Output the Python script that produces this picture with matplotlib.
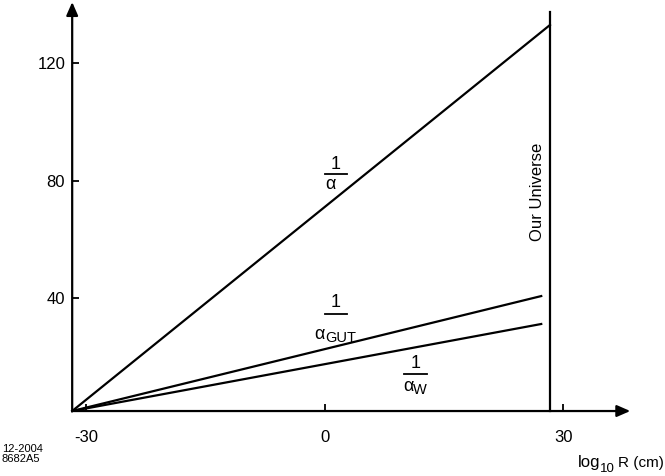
import matplotlib
matplotlib.use('Agg')
import matplotlib.pyplot as plt

plt.rcParams['font.family'] = ['Liberation Sans', 'DejaVu Sans']

# data (log10 R in cm vs inverse coupling)
x0, y0 = -31.8, 1.7          # where the axes meet
x_alpha = [x0, 28.3]
inv_alpha = [y0, 133.0]
x_weak = [x0, 27.2]
inv_gut = [y0, 40.8]
inv_w = [y0, 31.3]
x_universe = 28.3
universe_top = 137.4
x_ticks = [-30, 0, 30]
y_ticks = [40, 80, 120]
x_arrow_end = 38.4
y_arrow_end = 140.8

W, H = 665, 476
fig = plt.figure(figsize=(6.65, 4.76), dpi=100)
ax = fig.add_axes([0, 0, 1, 1])
ax.set_xlim(-40.88, 42.77)
ax.set_ylim(-20.4, 141.5)
ax.patch.set_alpha(0)

lw = 1.6
ax.plot(x_alpha, inv_alpha, color='black', lw=lw)
ax.plot(x_weak, inv_gut, color='black', lw=lw)
ax.plot(x_weak, inv_w, color='black', lw=lw)
ax.plot([x_universe, x_universe], [y0, universe_top], color='black', lw=lw)

# axes with arrows
arrow = dict(arrowstyle='-|>,head_length=0.8,head_width=0.35', lw=lw,
             color='black', shrinkA=0, shrinkB=0)
ax.annotate('', xy=(x_arrow_end, y0), xytext=(x0, y0), arrowprops=arrow)
ax.annotate('', xy=(x0, y_arrow_end), xytext=(x0, y0), arrowprops=arrow)

for s in ['top', 'right']:
    ax.spines[s].set_visible(False)
ax.spines['left'].set_position(('data', x0))
ax.spines['bottom'].set_position(('data', y0))
ax.spines['left'].set_color('none')
ax.spines['bottom'].set_color('none')
ax.set_xticks(x_ticks)
ax.set_xticklabels(['-30', '0', '30'])
ax.set_yticks(y_ticks)
ax.tick_params(axis='x', direction='in', length=5, width=1.3, pad=14, labelsize=12)
ax.tick_params(axis='y', direction='in', length=5, width=1.3, pad=5, labelsize=12)

# fraction labels
fs = 13
def frac(xc, y1, ybar, ya, xa, sub=None, half=1.4):
    ax.text(xc, y1, '1', ha='center', va='center', fontsize=fs)
    ax.plot([xc - half, xc + half], [ybar, ybar], color='black', lw=1.3)
    t = ax.text(xa, ya, 'α', ha='left', va='center', fontsize=fs)
    if sub:
        ax.annotate(sub, xy=(1, 0), xycoords=t, xytext=(0, 0.5),
                    textcoords='offset points', ha='left', va='baseline',
                    fontsize=10.5)

frac(1.4, 85.6, 82.3, 78.6, 0.0)
frac(1.4, 38.6, 34.7, 27.8, -1.3, 'GUT')
frac(11.4, 17.9, 14.3, 10.0, 9.8, 'W')

ax.text(26.7, 76.2, 'Our Universe', rotation=90, ha='center', va='center', fontsize=12)

# x axis title, log10 R (cm)
fig.text(578 / W, 1 - 467 / H, 'log', ha='left', va='baseline', fontsize=12)
fig.text(600 / W, 1 - 471.5 / H, '10', ha='left', va='baseline', fontsize=9.5)
fig.text(618 / W, 1 - 467 / H, 'R (cm)', ha='left', va='baseline', fontsize=11)

fig.text(0.003, 1 - 444 / H, '12-2004\n8682A5', ha='left', va='top',
         fontsize=8, linespacing=1.05)

fig.savefig('out.png', dpi=100)
